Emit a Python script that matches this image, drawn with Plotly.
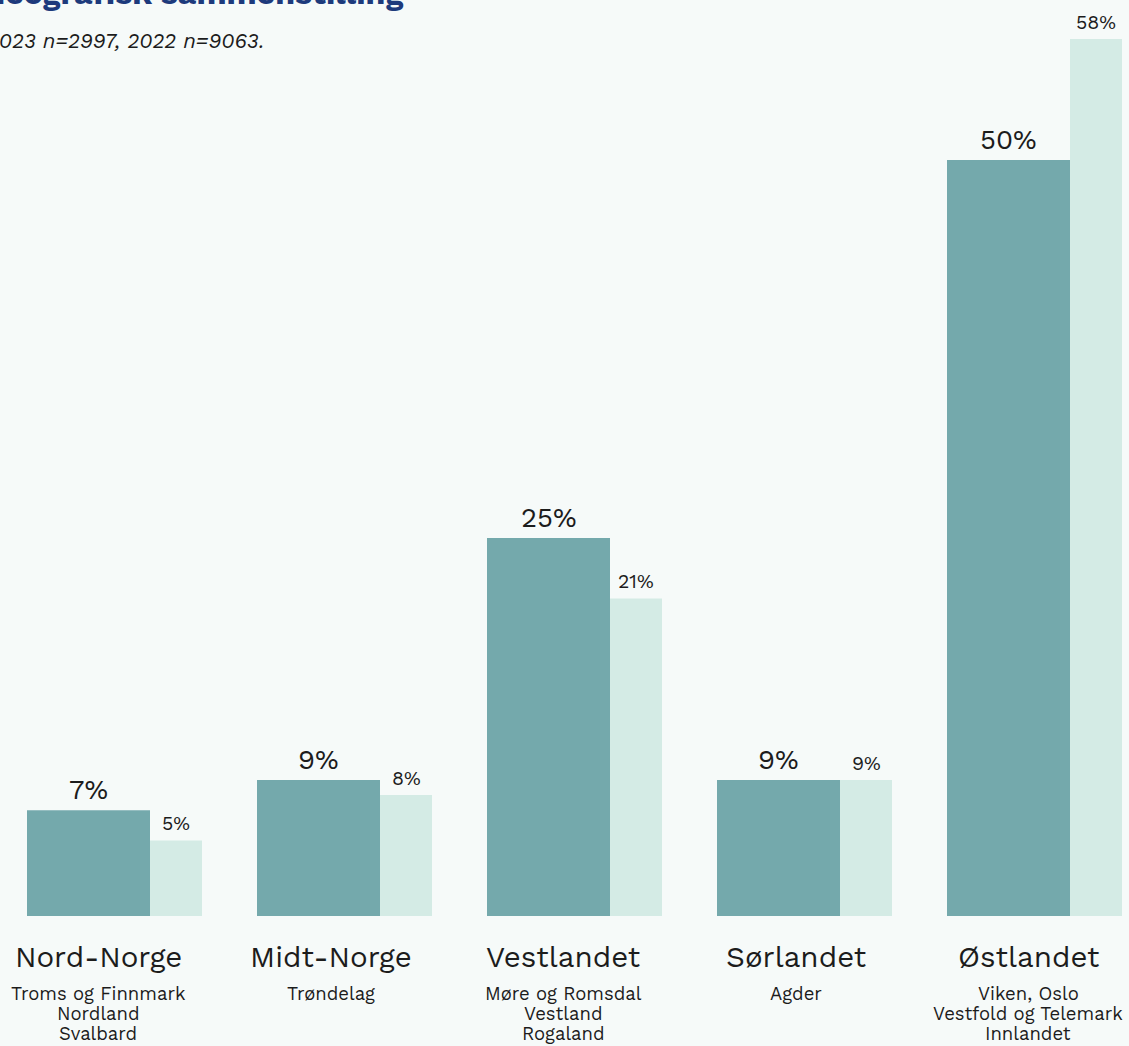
import plotly.graph_objects as go

# data
regions = ["Nord-Norge", "Midt-Norge", "Vestlandet", "Sørlandet", "Østlandet"]
counties = [
    ["Troms og Finnmark", "Nordland", "Svalbard"],
    ["Trøndelag"],
    ["Møre og Romsdal", "Vestland", "Rogaland"],
    ["Agder"],
    ["Viken, Oslo", "Vestfold og Telemark", "Innlandet"],
]
share_2023 = [7, 9, 25, 9, 50]
share_2022 = [5, 8, 21, 9, 58]

TITLE = "Geografisk sammenstilling"
SUBTITLE = "2023 n=2997, 2022 n=9063."

W, H = 1129, 1046
BG = "#f6faf9"
DARK = "#74a9ac"
LIGHT = "#d4ebe5"
TEXT = "#1c1c1c"
FONT = "Work Sans, Inter, sans-serif"

PX_PER_CAT = 230.0
X0 = -27 / PX_PER_CAT
W_DARK = 123 / PX_PER_CAT
W_LIGHT = 52 / PX_PER_CAT
BASE_PX = 916
PX_PER_PCT = 15.12

xs = list(range(len(regions)))

fig = go.Figure()
fig.add_trace(go.Bar(
    x=xs, y=share_2023, width=W_DARK, offset=0,
    marker=dict(color=DARK, line=dict(width=0)), name="2023",
))
fig.add_trace(go.Bar(
    x=xs, y=share_2022, width=W_LIGHT, offset=W_DARK,
    marker=dict(color=LIGHT, line=dict(width=0)), name="2022",
))

ann = []
for i, (a, b) in enumerate(zip(share_2023, share_2022)):
    ann.append(dict(x=i + W_DARK / 2, y=a, xref="x", yref="y", text=f"{a}%",
                    showarrow=False, yanchor="bottom", yshift=2,
                    font=dict(size=27.5, color=TEXT, family=FONT)))
    ann.append(dict(x=i + W_DARK + W_LIGHT / 2, y=b, xref="x", yref="y", text=f"{b}%",
                    showarrow=False, yanchor="bottom", yshift=3,
                    font=dict(size=19.5, color=TEXT, family=FONT)))

for i, (name, subs) in enumerate(zip(regions, counties)):
    cx = (98 + 232.5 * i) / W
    ann.append(dict(x=cx, y=1 - 957 / H, xref="paper", yref="paper", text=name,
                    showarrow=False, xanchor="center", yanchor="middle",
                    font=dict(size=29.5, color=TEXT, family=FONT)))
    for j, line in enumerate(subs):
        ann.append(dict(x=cx, y=1 - (993 + 20 * j) / H, xref="paper", yref="paper",
                        text=line, showarrow=False,
                        xanchor="center", yanchor="middle",
                        font=dict(size=18.5, color=TEXT, family=FONT)))

ann.append(dict(x=405 / W, y=1 - 14 / H, xref="paper", yref="paper", text=f"<b>{TITLE}</b>",
                showarrow=False, xanchor="right", yanchor="bottom",
                font=dict(size=32, color="#1d3a7c", family=FONT)))
ann.append(dict(x=266 / W, y=1 - 41 / H, xref="paper", yref="paper", text=f"<i>{SUBTITLE}</i>",
                showarrow=False, xanchor="right", yanchor="middle",
                font=dict(size=21, color=TEXT, family=FONT)))

fig.update_layout(
    width=W, height=H,
    margin=dict(l=0, r=0, t=0, b=0),
    paper_bgcolor=BG, plot_bgcolor=BG,
    showlegend=False,
    barmode="overlay",
    xaxis=dict(range=[X0, X0 + W / PX_PER_CAT], visible=False, fixedrange=True),
    yaxis=dict(range=[-(H - BASE_PX) / PX_PER_PCT, BASE_PX / PX_PER_PCT],
               visible=False, fixedrange=True),
    annotations=ann,
)

fig.write_html("out.html", config={"displayModeBar": False},
               post_script="document.body.style.margin='0';document.body.style.overflow='hidden';")
